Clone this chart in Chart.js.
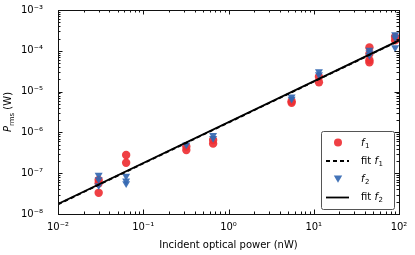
<!DOCTYPE html>
<html>
<head>
<meta charset="utf-8">
<script src="https://cdn.jsdelivr.net/npm/chart.js@4/dist/chart.umd.min.js"></script>
<style>
html,body{margin:0;padding:0;background:#fff;}
#wrap{width:415px;height:255px;position:relative;}
</style>
</head>
<body>
<div id="wrap"><canvas id="c" width="415" height="255"></canvas></div>
<script>
// ---- data ----
const f1X = [0.03, 0.03, 0.03, 0.063, 0.063, 0.32, 0.32, 0.66, 0.66, 5.5, 5.5, 11.5, 11.5, 45, 45, 45, 45, 90, 90];
const f1Y = [6.8e-8, 5.7e-8, 3.3e-8, 2.8e-7, 1.8e-7, 3.7e-7, 4.5e-7, 6.5e-7, 5.3e-7, 5.3e-6, 5.8e-6, 1.7e-5, 2.3e-5, 1.2e-4, 8.5e-5, 5.9e-5, 5.2e-5, 2.2e-4, 1.8e-4];
const f2X = [0.03, 0.03, 0.03, 0.063, 0.063, 0.063, 0.32, 0.66, 0.66, 5.5, 5.5, 11.5, 11.5, 45, 45, 45, 90, 90, 90];
const f2Y = [9e-8, 7e-8, 5e-8, 8.5e-8, 6.5e-8, 5.6e-8, 5.0e-7, 8.5e-7, 7.2e-7, 7.5e-6, 6.6e-6, 3.1e-5, 2.6e-5, 1.05e-4, 9e-5, 7.8e-5, 2.5e-4, 2.1e-4, 1.2e-4];
const fitX = [0.01, 100];
const fit1Y = [1.72e-8, 1.76e-4];
const fit2Y = [1.76e-8, 1.80e-4];
const xTickValues = [0.01, 0.1, 1, 10, 100];
const xTickLabels = ['10\u207B\u00B2', '10\u207B\u00B9', '10\u2070', '10\u00B9', '10\u00B2'];
const yTickValues = [1e-8, 1e-7, 1e-6, 1e-5, 1e-4, 1e-3];
const yTickLabels = ['10\u207B\u2078', '10\u207B\u2077', '10\u207B\u2076', '10\u207B\u2075', '10\u207B\u2074', '10\u207B\u00B3'];
const xTitle = 'Incident optical power (nW)';

const RED = 'rgba(238,48,52,0.92)';
const BLUE = 'rgba(52,104,178,0.92)';
const FONT = "'DejaVu Sans', sans-serif";

function pts(xs, ys){ return xs.map((x,i)=>({x:x, y:ys[i]})); }

Chart.defaults.font.family = FONT;
Chart.defaults.font.size = 10;
Chart.defaults.color = '#000';

const frameTicks = {
  id: 'frameTicks',
  afterDatasetsDraw(chart){
    const ctx = chart.ctx, a = chart.chartArea;
    const xs = chart.scales.x, ys = chart.scales.y;
    ctx.save();
    ctx.strokeStyle = '#111';
    ctx.lineWidth = 1;
    ctx.beginPath();
    for (let d = -2; d <= 2; d++) {
      for (let m = 1; m <= 9; m++) {
        const v = m * Math.pow(10, d);
        if (v < 0.01 - 1e-12 || v > 100 + 1e-9) continue;
        const p = Math.round(xs.getPixelForValue(v)) + 0.5;
        const L = m === 1 ? 4.5 : 2.5;
        ctx.moveTo(p, a.bottom); ctx.lineTo(p, a.bottom - L);
        ctx.moveTo(p, a.top); ctx.lineTo(p, a.top + L);
      }
    }
    for (let d = -8; d <= -3; d++) {
      for (let m = 1; m <= 9; m++) {
        const v = m * Math.pow(10, d);
        if (v > 1e-3 * 1.000001) continue;
        const p = Math.round(ys.getPixelForValue(v)) + 0.5;
        const L = m === 1 ? 4.5 : 2.5;
        ctx.moveTo(a.left, p); ctx.lineTo(a.left + L, p);
        ctx.moveTo(a.right, p); ctx.lineTo(a.right - L, p);
      }
    }
    ctx.stroke();
    ctx.strokeRect(Math.round(a.left) + 0.5, Math.round(a.top) + 0.5, Math.round(a.right - a.left), Math.round(a.bottom - a.top));
    ctx.restore();
  },
  afterDraw(chart){
    const ctx = chart.ctx, a = chart.chartArea;
    // y axis title: P_rms (W)
    ctx.save();
    ctx.fillStyle = '#000';
    ctx.translate(11, (a.top + a.bottom) / 2);
    ctx.rotate(-Math.PI / 2);
    ctx.textBaseline = 'alphabetic';
    const big = "10px " + FONT, itB = "italic 10px " + FONT, small = "7px " + FONT;
    ctx.font = itB; const wP = ctx.measureText('P').width;
    ctx.font = small; const wR = ctx.measureText('rms').width;
    ctx.font = big; const wW = ctx.measureText(' (W)').width;
    let x0 = -(wP + wR + wW) / 2;
    ctx.font = itB; ctx.fillText('P', x0, 0); x0 += wP;
    ctx.font = small; ctx.fillText('rms', x0, 2.5); x0 += wR;
    ctx.font = big; ctx.fillText(' (W)', x0, 0);
    ctx.restore();

    // legend
    const ds = chart.data.datasets;
    const bx = 321.5, by = 131.5, bw = 73, bh = 78;
    ctx.save();
    ctx.fillStyle = 'rgba(255,255,255,0.9)';
    ctx.strokeStyle = '#555';
    ctx.lineWidth = 1;
    ctx.beginPath();
    if (ctx.roundRect) ctx.roundRect(bx, by, bw, bh, 2); else ctx.rect(bx, by, bw, bh);
    ctx.fill(); ctx.stroke();
    const rows = [142.5, 161, 179, 197.5];
    const mx = 338, lx0 = 326, lx1 = 349, tx = 361;
    ctx.fillStyle = ds[0].backgroundColor;
    ctx.beginPath(); ctx.arc(mx, rows[0], 4, 0, Math.PI * 2); ctx.fill();
    ctx.strokeStyle = '#000'; ctx.lineWidth = 1.8; ctx.setLineDash([4, 3]);
    ctx.beginPath(); ctx.moveTo(lx0, rows[1]); ctx.lineTo(lx1, rows[1]); ctx.stroke();
    ctx.setLineDash([]);
    ctx.fillStyle = ds[2].backgroundColor;
    ctx.beginPath(); ctx.moveTo(mx - 4.2, rows[2] - 3.5); ctx.lineTo(mx + 4.2, rows[2] - 3.5); ctx.lineTo(mx, rows[2] + 3.8); ctx.closePath(); ctx.fill();
    ctx.beginPath(); ctx.moveTo(lx0, rows[3]); ctx.lineTo(lx1, rows[3]); ctx.stroke();
    ctx.fillStyle = '#000';
    ctx.textBaseline = 'middle';
    const sub = "7px " + FONT;
    function lab(prefix, num, y){
      let x = tx;
      if (prefix) { ctx.font = big; ctx.fillText(prefix, x, y); x += ctx.measureText(prefix).width; }
      ctx.font = itB; ctx.fillText('f', x, y); x += ctx.measureText('f').width + 0.5;
      ctx.font = sub; ctx.fillText(num, x, y + 3);
    }
    lab('', '1', rows[0] + 0.5);
    lab('fit ', '1', rows[1]);
    lab('', '2', rows[2]);
    lab('fit ', '2', rows[3]);
    ctx.restore();
  }
};

function zeroPad(s){ s.paddingTop = 0; s.paddingBottom = 0; s.paddingLeft = 0; s.paddingRight = 0; }

new Chart(document.getElementById('c'), {
  type: 'scatter',
  data: {
    datasets: [
      { label: 'f1', data: pts(f1X, f1Y), pointStyle: 'circle', pointRadius: 4.2, pointHoverRadius: 4.2,
        backgroundColor: RED, borderColor: RED, borderWidth: 0, order: 3 },
      { label: 'fit f1', type: 'line', data: pts(fitX, fit1Y), borderColor: '#000', borderWidth: 1.8,
        borderDash: [4, 3], pointRadius: 0, fill: false, order: 1 },
      { label: 'f2', data: pts(f2X, f2Y), pointStyle: 'triangle', pointRotation: 180, pointRadius: 4.6, pointHoverRadius: 4.6,
        backgroundColor: BLUE, borderColor: BLUE, borderWidth: 0, order: 2 },
      { label: 'fit f2', type: 'line', data: pts(fitX, fit2Y), borderColor: '#000', borderWidth: 1.8,
        pointRadius: 0, fill: false, order: 0 }
    ]
  },
  options: {
    responsive: false,
    animation: false,
    events: [],
    layout: { padding: { top: 10, right: 16, left: 0, bottom: 0 } },
    plugins: { legend: { display: false }, tooltip: { enabled: false } },
    scales: {
      x: {
        type: 'logarithmic', min: 0.01, max: 100,
        afterBuildTicks(s){ s.ticks = xTickValues.map(v => ({ value: v })); },
        afterFit(s){ s.height = 41; zeroPad(s); },
        ticks: { autoSkip: false, maxRotation: 0, padding: 7, color: '#000', font: { size: 10 },
          callback(v, i){ return xTickLabels[i]; } },
        grid: { display: false, drawTicks: false },
        border: { display: false },
        title: { display: true, text: xTitle, color: '#000', font: { size: 10 }, padding: { top: 2, bottom: 4 } }
      },
      y: {
        type: 'logarithmic', min: 1e-8, max: 1e-3,
        afterBuildTicks(s){ s.ticks = yTickValues.map(v => ({ value: v })); },
        afterFit(s){ s.width = 58; zeroPad(s); },
        ticks: { autoSkip: false, padding: 15, color: '#000', font: { size: 10 },
          callback(v, i){ return yTickLabels[i]; } },
        grid: { display: false, drawTicks: false },
        border: { display: false }
      }
    }
  },
  plugins: [frameTicks]
});
</script>
</body>
</html>
